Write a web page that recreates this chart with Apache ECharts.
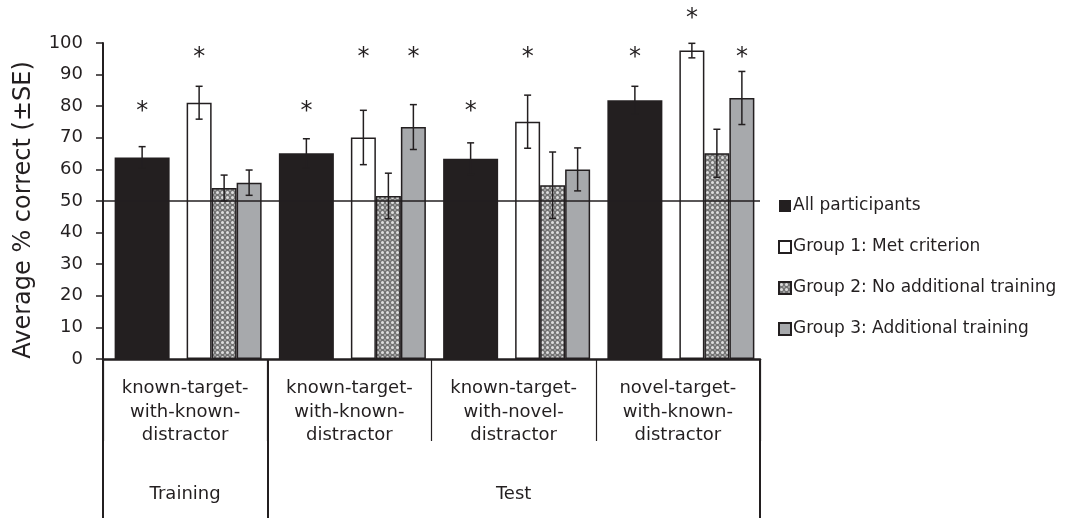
<!DOCTYPE html>
<html>
<head>
<meta charset="utf-8">
<script src="https://cdn.jsdelivr.net/npm/echarts@6/dist/echarts.min.js"></script>
<style>
  html, body { margin: 0; padding: 0; background: #fff; }
  #chart { width: 1068px; height: 518px; }
</style>
</head>
<body>
<div id="chart"></div>
<script>
// 条件（x 轴类别）
const conditions = [
  "known-target-\nwith-known-\ndistractor",
  "known-target-\nwith-known-\ndistractor",
  "known-target-\nwith-novel-\ndistractor",
  "novel-target-\nwith-known-\ndistractor",
];
// 阶段（第二层 x 轴）
const phases = ["Training", "", "Test", ""];
const groupNames = [
  "All participants",
  "Group 1: Met criterion",
  "Group 2: No additional training",
  "Group 3: Additional training",
];
// 平均正确率
const allMean = [63.8, 65.1, 63.4, 81.9];
const g1Mean = [81.1, 70.1, 75.1, 97.6];
const g2Mean = [54.1, 51.6, 55.0, 65.1];
const g3Mean = [55.8, 73.4, 60.0, 82.6];
// 标准误
const allSE = [3.4, 4.6, 5.0, 4.4];
const g1SE = [5.2, 8.6, 8.4, 2.3];
const g2SE = [4.1, 7.2, 10.5, 7.6];
const g3SE = [4.0, 7.1, 6.8, 8.4];
// 星号高度（y 值），null = 无星号
const allStar = [79.6, 79.6, 79.6, 96.7];
const g1Star = [96.7, 96.7, 96.7, 109];
const g2Star = [null, null, null, null];
const g3Star = [null, 96.7, null, 96.7];
// 机会水平
const chance = 50;
const yTicks = [0, 100, 10]; // min, max, interval

const ink = "#231f20";
const fontFamily = "DejaVu Sans, Verdana, sans-serif";

// 网格填充（第二组）
function makeHatch() {
  const c = document.createElement("canvas");
  c.width = 5;
  c.height = 5;
  const ctx = c.getContext("2d");
  ctx.fillStyle = "#747474";
  ctx.fillRect(0, 0, 5, 5);
  ctx.fillStyle = "#dedede";
  ctx.beginPath();
  ctx.arc(2.5, 2.5, 1.5, 0, Math.PI * 2);
  ctx.fill();
  ctx.fillStyle = "#b4b4b4";
  [[0, 0], [5, 0], [0, 5], [5, 5]].forEach(function (p) {
    ctx.beginPath();
    ctx.arc(p[0], p[1], 0.9, 0, Math.PI * 2);
    ctx.fill();
  });
  return c;
}

// 柱宽：前置间隔、黑柱、间隔、三组
const barWidths = [6, 55, 17, 25, 25, 25];
const totalW = barWidths.reduce((a, b) => a + b, 0);
const centers = [];
let acc = -totalW / 2;
barWidths.forEach((w) => { centers.push(acc + w / 2); acc += w; });
const groupOffset = [centers[1], centers[3], centers[4], centers[5]];

const means = [allMean, g1Mean, g2Mean, g3Mean];
const ses = [allSE, g1SE, g2SE, g3SE];
const stars = [allStar, g1Star, g2Star, g3Star];

const errData = [];
const starData = [];
means.forEach((arr, g) => {
  arr.forEach((m, i) => {
    errData.push([i, g, m, ses[g][i]]);
    if (stars[g][i] != null) starData.push([i, g, stars[g][i]]);
  });
});

const chart = echarts.init(document.getElementById("chart"));

const barStyle = { borderColor: ink, borderWidth: 1.5 };
const empty = ["-", "-", "-", "-"];

const option = {
  animation: false,
  textStyle: { fontFamily: fontFamily, color: ink },
  grid: { left: 103, right: 308, top: 43, bottom: 159 },
  legend: {
    data: groupNames,
    orient: "vertical",
    left: 773,
    top: 191,
    itemWidth: 12,
    itemHeight: 12,
    itemGap: 21,
    icon: "rect",
    selectedMode: false,
    textStyle: { fontSize: 17, color: ink, lineHeight: 20, fontFamily: fontFamily, padding: [0, 0, 0, -3] },
  },
  xAxis: [
    {
      type: "category",
      data: conditions,
      axisLine: { lineStyle: { color: ink, width: 2.5 } },
      axisTick: { show: true, length: 82, interval: 0, lineStyle: { color: ink, width: 1.2 } },
      axisLabel: { interval: 0, fontSize: 18, lineHeight: 23.5, margin: 18, color: ink },
    },
    {
      type: "category",
      data: phases,
      position: "bottom",
      axisLine: { show: false },
      axisTick: {
        show: true,
        length: 159,
        interval: function (i) { return i <= 1; },
        lineStyle: { color: ink, width: 2 },
      },
      axisLabel: { interval: 0, fontSize: 18, margin: 126, color: ink },
    },
  ],
  yAxis: {
    type: "value",
    min: yTicks[0],
    max: yTicks[1],
    interval: yTicks[2],
    name: "Average % correct (\u00b1SE)",
    nameLocation: "middle",
    nameGap: 67,
    nameTextStyle: { fontSize: 24, color: ink, padding: [0, 18, 0, 0] },
    axisLine: { show: true, lineStyle: { color: ink, width: 2 } },
    axisTick: { show: true, length: 7, lineStyle: { color: ink, width: 1.5 } },
    axisLabel: { fontSize: 18, margin: 20, color: ink },
    splitLine: { show: false },
  },
  series: [
    { name: "_lead", type: "bar", barWidth: barWidths[0], barGap: "0%", data: empty },
    {
      name: groupNames[0],
      type: "bar",
      barWidth: barWidths[1],
      barGap: "0%",
      data: allMean,
      itemStyle: { color: ink },
    },
    { name: "_gap", type: "bar", barWidth: barWidths[2], barGap: "0%", data: empty },
    {
      name: groupNames[1],
      type: "bar",
      barWidth: barWidths[3],
      barGap: "0%",
      data: g1Mean,
      itemStyle: Object.assign({ color: "#ffffff" }, barStyle),
    },
    {
      name: groupNames[2],
      type: "bar",
      barWidth: barWidths[4],
      barGap: "0%",
      data: g2Mean,
      itemStyle: Object.assign({ color: { image: makeHatch(), repeat: "repeat" } }, barStyle),
    },
    {
      name: groupNames[3],
      type: "bar",
      barWidth: barWidths[5],
      barGap: "0%",
      data: g3Mean,
      itemStyle: Object.assign({ color: "#a7a9ac" }, barStyle),
    },
    // 误差线
    {
      name: "err",
      type: "custom",
      z: 5,
      data: errData,
      renderItem: function (params, api) {
        const cat = api.value(0), g = api.value(1), m = api.value(2), se = api.value(3);
        const x = api.coord([cat, m])[0] + groupOffset[g];
        const top = api.coord([cat, m + se])[1];
        const bot = api.coord([cat, m - se])[1];
        const st = { stroke: ink, lineWidth: 1.5 };
        return {
          type: "group",
          children: [
            { type: "line", shape: { x1: x, y1: top, x2: x, y2: bot }, style: st },
            { type: "line", shape: { x1: x - 3.5, y1: top, x2: x + 3.5, y2: top }, style: st },
            { type: "line", shape: { x1: x - 3.5, y1: bot, x2: x + 3.5, y2: bot }, style: st },
          ],
        };
      },
      markLine: {
        silent: true,
        symbol: "none",
        label: { show: false },
        lineStyle: { color: ink, width: 1.5, type: "solid" },
        data: [{ yAxis: chance }],
      },
    },
    // 星号
    {
      name: "star",
      type: "custom",
      z: 5,
      data: starData,
      renderItem: function (params, api) {
        const cat = api.value(0), g = api.value(1), s = api.value(2);
        const p = api.coord([cat, s]);
        return {
          type: "text",
          x: p[0] + groupOffset[g],
          y: p[1] + 4,
          style: {
            text: "*",
            fill: ink,
            fontSize: 24,
            fontFamily: fontFamily,
            align: "center",
            verticalAlign: "middle",
          },
        };
      },
    },
  ],
};

chart.setOption(option);
</script>
</body>
</html>
